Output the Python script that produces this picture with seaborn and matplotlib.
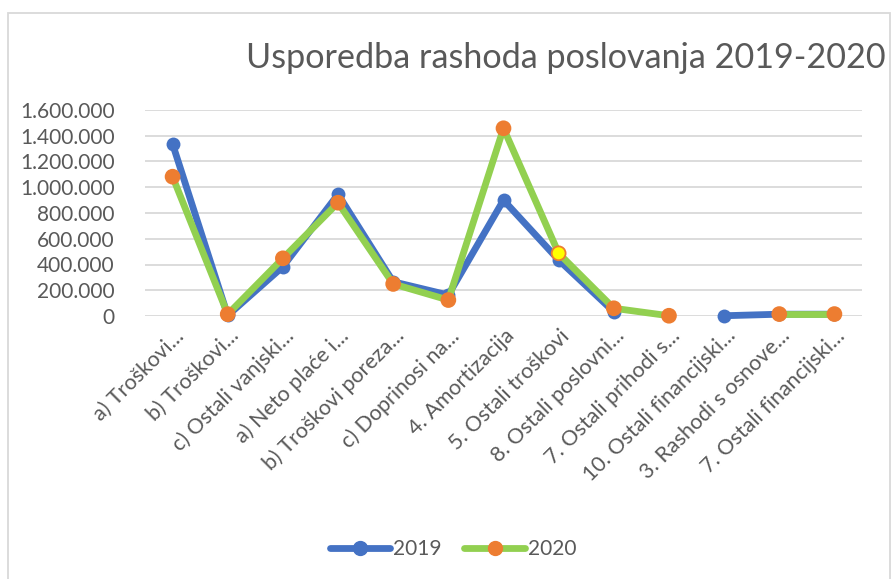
import numpy as np
import pandas as pd
import matplotlib
matplotlib.use("Agg")
import matplotlib.pyplot as plt
import matplotlib.transforms as mtransforms
from matplotlib.lines import Line2D
import seaborn as sns

categories = [
    "a) Troškovi...", "b) Troškovi...", "c) Ostali vanjski...", "a) Neto plaće i...",
    "b) Troškovi poreza...", "c) Doprinosi na...", "4. Amortizacija", "5. Ostali troškovi",
    "8. Ostali poslovni...", "7. Ostali prihodi s...", "10. Ostali financijski...",
    "3. Rashodi s osnove...", "7. Ostali financijski...",
]
values_2019 = [1336000, 4000, 383000, 945000, 266000, 163000, 900000, 435000, 33000,
               np.nan, 2000, 14000, 14000]
values_2020 = [1082000, 14000, 448000, 880000, 249000, 124000, 1458000, 487000, 60000,
               2000, np.nan, 15000, 15000]
yticks = [0, 200000, 400000, 600000, 800000, 1000000, 1200000, 1400000, 1600000]
ytick_labels = ["0", "200.000", "400.000", "600.000", "800.000", "1.000.000",
                "1.200.000", "1.400.000", "1.600.000"]
title = "Usporedba rashoda poslovanja 2019-2020"
series_names = ["2019", "2020"]

BLUE = "#4472C4"
GREEN = "#92D050"
ORANGE = "#ED7D31"
GRAY = "#595959"
FONT = ["Lato", "DejaVu Sans"]

sns.set_theme(style="white")
plt.rcParams["font.family"] = FONT

W, H = 893, 579
fig = plt.figure(figsize=(W / 100, H / 100), dpi=100)
ax = fig.add_axes([145 / W, 1 - 316 / H, (862 - 145) / W, (316 - 110) / H])


def long_frame(vals, name):
    rows = []
    seg = 0
    prev_nan = True
    for i, v in enumerate(vals):
        if np.isnan(v):
            prev_nan = True
            continue
        if prev_nan:
            seg += 1
        prev_nan = False
        rows.append({"x": i, "value": v, "seg": seg, "year": name})
    return pd.DataFrame(rows)


df19 = long_frame(values_2019, series_names[0])
df20 = long_frame(values_2020, series_names[1])

LW = 4.9
MS = 100

# 2019 line + markers
sns.lineplot(data=df19, x="x", y="value", units="seg", estimator=None, color=BLUE,
             linewidth=LW, ax=ax, legend=False, zorder=3, clip_on=False,
             solid_capstyle="round", solid_joinstyle="round")
sns.scatterplot(data=df19, x="x", y="value", color=BLUE, s=MS, linewidth=0,
                ax=ax, legend=False, zorder=4, clip_on=False)
# 2020 line + markers
sns.lineplot(data=df20, x="x", y="value", units="seg", estimator=None, color=GREEN,
             linewidth=LW, ax=ax, legend=False, zorder=5, clip_on=False,
             solid_capstyle="round", solid_joinstyle="round")
highlight_idx = 7
face = [("#FFFF00" if int(x) == highlight_idx else ORANGE) for x in df20["x"]]
ax.scatter(df20["x"], df20["value"], c=face, s=MS, edgecolors=ORANGE, linewidths=1.3,
           zorder=6, clip_on=False)

ax.set_xlim(-0.5, len(categories) - 0.5)
ax.set_ylim(0, 1600000)
ax.set_yticks(yticks)
ax.set_yticklabels(ytick_labels, fontsize=15, color=GRAY)
ax.set_xticks(range(len(categories)))
ax.set_xticklabels(categories, rotation=45, ha="right", va="center",
                   rotation_mode="anchor", fontsize=15.5, color=GRAY)
ax.tick_params(axis="x", length=0, pad=12)
ax.tick_params(axis="y", length=0, pad=22)
offset = mtransforms.ScaledTranslation(8 / 100, 0, fig.dpi_scale_trans)
for lab in ax.get_xticklabels():
    lab.set_transform(lab.get_transform() + offset)
ax.set_xlabel("")
ax.set_ylabel("")
ax.grid(axis="y", color="#D9D9D9", linewidth=1.3)
ax.grid(axis="x", visible=False)
for s in ax.spines.values():
    s.set_visible(False)
ax.set_axisbelow(True)

# title fitted to reference width
t = fig.text(246 / W, 1 - 58 / H, title, fontsize=26, color=GRAY, ha="left",
             va="center", family=FONT)
fig.canvas.draw()
bb = t.get_window_extent()
t.set_fontsize(26 * 639 / bb.width)

# chart border
fig.add_artist(plt.Rectangle((8 / W, -0.01), (890 - 8) / W, 1 - 13 / H + 0.01,
                             transform=fig.transFigure, fill=False,
                             edgecolor="#D9D9D9", linewidth=1.3))

handles = [
    Line2D([0], [0], color=BLUE, lw=LW, marker="o", markersize=10,
           markerfacecolor=BLUE, markeredgecolor=BLUE),
    Line2D([0], [0], color=GREEN, lw=LW, marker="o", markersize=10,
           markerfacecolor=ORANGE, markeredgecolor=ORANGE),
]
leg = fig.legend(handles, series_names, loc="center", bbox_to_anchor=(453 / W, 1 - 549 / H),
                 ncol=2, frameon=False, fontsize=15, handlelength=2.9,
                 handletextpad=0.15, columnspacing=1.1, labelcolor=GRAY)

fig.savefig("out.png", dpi=100)
